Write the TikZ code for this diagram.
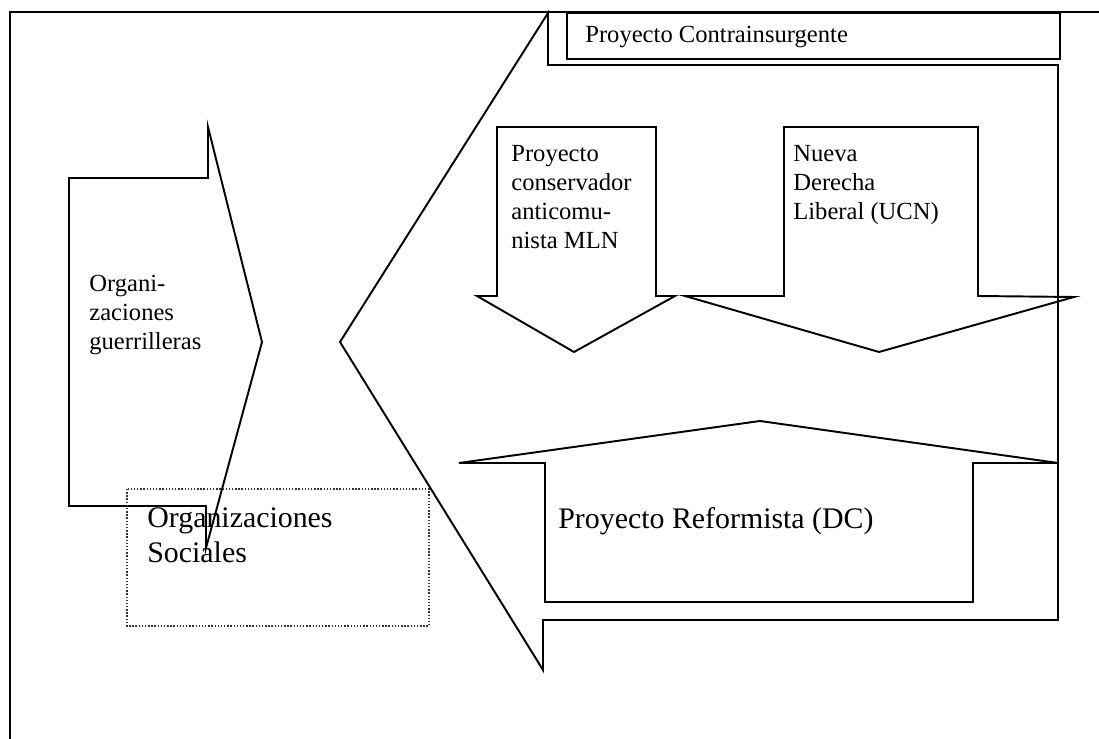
\documentclass[tikz,border=0pt]{standalone}
\usepackage{fontspec}
\setmainfont{Liberation Serif}
\begin{document}
\begin{tikzpicture}[x=0.02cm, y=-0.02cm,
    contorno/.style={line width=1.1pt},
    rotulo/.style={anchor=north west, inner sep=0pt, align=left, font=\fontsize{14}{16.5}\selectfont},
    rotulogrande/.style={rotulo, font=\fontsize{17}{20}\selectfont}]
    \useasboundingbox (0,0) rectangle (1099,739);

    % Marco
    \draw[contorno] (10,739) -- (10,12) -- (1099,12);

    % Flecha de las organizaciones guerrilleras
    \draw[contorno] (208,127) -- (262,342) -- (206,548) -- (206,506) -- (69,506)
        -- (69,178) -- (208,178) -- cycle;
    \node[rotulo] (guerrilla) at (89,275) {Organi-\\zaciones\\guerrilleras};

    % Organizaciones sociales
    \draw[line width=0.8pt, densely dotted, black!80] (127,489) rectangle (429,626);
    \node[rotulogrande] (sociales) at (147,507) {Organizaciones\\Sociales};

    % Proyecto contrainsurgente
    \draw[contorno] (548,13) -- (548,65) -- (1058,65) -- (1058,620) -- (543,620)
        -- (543,670) -- (340,342) -- cycle;
    \draw[contorno] (567,13) rectangle (1060,59);
    \node[rotulo, anchor=west] (contra) at (585,37) {Proyecto Contrainsurgente};

    % Proyecto MLN
    \draw[contorno] (497,127) -- (497,296) -- (477,296) -- (574,352) -- (675,296)
        -- (656,296) -- (656,127) -- cycle;
    \node[rotulo] (mln) at (511,145) {Proyecto\\conservador\\anticomu-\\nista MLN};

    % Nueva derecha
    \draw[contorno] (784,127) -- (784,296) -- (685,296) -- (879,352) -- (1074,297)
        -- (978,296) -- (978,127) -- cycle;
    \node[rotulo] (ucn) at (793,145) {Nueva\\Derecha\\Liberal (UCN)};

    % Proyecto reformista
    \draw[contorno] (760,421) -- (1058,463) -- (973,463) -- (973,602) -- (545,602)
        -- (545,463) -- (459,463) -- cycle;
    \node[rotulogrande] (reforma) at (558,507) {Proyecto Reformista (DC)};
\end{tikzpicture}
\end{document}
